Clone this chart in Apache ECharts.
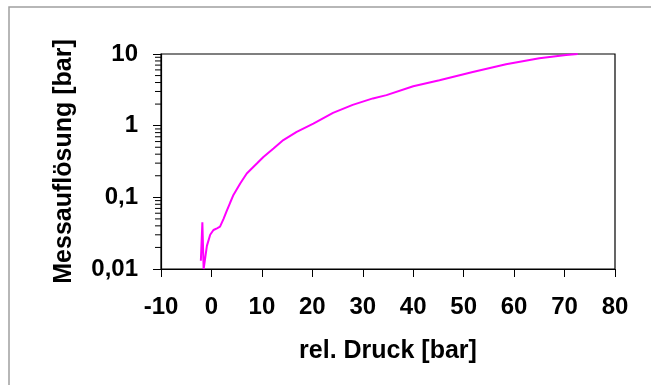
<!DOCTYPE html>
<html>
<head>
<meta charset="utf-8">
<script src="https://cdn.jsdelivr.net/npm/echarts@6/dist/echarts.min.js"></script>
<style>
  html, body { margin: 0; padding: 0; background: #fff; }
  #chart { width: 651px; height: 385px; }
</style>
</head>
<body>
<div id="chart"></div>
<script>
// Pressure (bar) against measurement resolution (bar)
const pressure = [-2.1, -1.8, -1.55, -0.9, -0.25, 0.4, 1.1, 1.7, 2.4, 3.05, 3.7, 4.36, 5.7, 7.0, 9.0, 10.3, 12.3, 14.25, 16.9, 20.2, 24.1, 28.0, 32.0, 34.7, 40.0, 45.2, 51.8, 58.4, 65.0, 70.3, 72.6];
const resolution = [0.013, 0.045, 0.010, 0.021, 0.030, 0.035, 0.037, 0.039, 0.050, 0.065, 0.084, 0.108, 0.156, 0.215, 0.296, 0.366, 0.48, 0.63, 0.82, 1.07, 1.51, 1.95, 2.4, 2.67, 3.55, 4.3, 5.6, 7.2, 8.7, 9.66, 10.0];

// Log-axis minor tick values (2..9 per decade)
const minorTickValues = [0.02, 0.03, 0.04, 0.05, 0.06, 0.07, 0.08, 0.09,
                         0.2, 0.3, 0.4, 0.5, 0.6, 0.7, 0.8, 0.9,
                         2, 3, 4, 5, 6, 7, 8, 9];
const xMin = -10, xMax = 80, xStep = 10;
const yMin = 0.01, yMax = 10;

const fontFamily = '"Liberation Sans", Arial, sans-serif';

const chart = echarts.init(document.getElementById('chart'), null, { renderer: 'canvas' });

chart.setOption({
  animation: false,
  backgroundColor: '#fff',
  graphic: [{
    type: 'rect',
    shape: { x: 9, y: 7, width: 700, height: 420 },
    style: { fill: 'none', stroke: '#a0a0a0', lineWidth: 1.5 },
    silent: true,
    z: -1
  }],
  grid: {
    left: 161, right: 36, top: 54, bottom: 116,
    show: true, borderColor: '#000', borderWidth: 1.2, backgroundColor: 'transparent'
  },
  xAxis: {
    type: 'value',
    min: xMin, max: xMax, interval: xStep,
    name: 'rel. Druck [bar]',
    nameLocation: 'middle',
    nameGap: 70,
    nameTextStyle: { fontFamily, fontWeight: 'bold', fontSize: 25, color: '#000' },
    axisLine: { show: true, onZero: false, lineStyle: { color: '#000', width: 1.2 } },
    axisTick: { show: true, inside: false, length: 8, lineStyle: { color: '#000', width: 1 } },
    axisLabel: { fontFamily, fontWeight: 'bold', fontSize: 24, color: '#000', margin: 26 },
    splitLine: { show: false }
  },
  yAxis: {
    type: 'log',
    logBase: 10,
    min: yMin, max: yMax,
    name: 'Messauflösung [bar]',
    nameLocation: 'middle',
    nameGap: 84,
    nameTextStyle: { fontFamily, fontWeight: 'bold', fontSize: 25, color: '#000' },
    axisLine: { show: true, onZero: false, lineStyle: { color: '#000', width: 1.2 } },
    axisTick: { show: true, inside: false, length: 8, lineStyle: { color: '#000', width: 1 } },
    axisLabel: {
      fontFamily, fontWeight: 'bold', fontSize: 24, color: '#000', margin: 23,
      formatter: v => String(v).replace('.', ',')
    },
    splitLine: { show: false }
  },
  series: [
    {
      type: 'line',
      data: pressure.map((p, i) => [p, resolution[i]]),
      showSymbol: false,
      lineStyle: { color: '#ff00ff', width: 2 },
      itemStyle: { color: '#ff00ff' },
      z: 3
    },
    {
      type: 'custom',
      clip: false,
      silent: true,
      data: minorTickValues.map(v => [xMin, v]),
      renderItem: (params, api) => {
        const pt = api.coord([api.value(0), api.value(1)]);
        return {
          type: 'line',
          shape: { x1: pt[0] - 6, y1: pt[1], x2: pt[0], y2: pt[1] },
          style: { stroke: '#000', lineWidth: 1 }
        };
      },
      z: 4
    }
  ]
});
</script>
</body>
</html>
